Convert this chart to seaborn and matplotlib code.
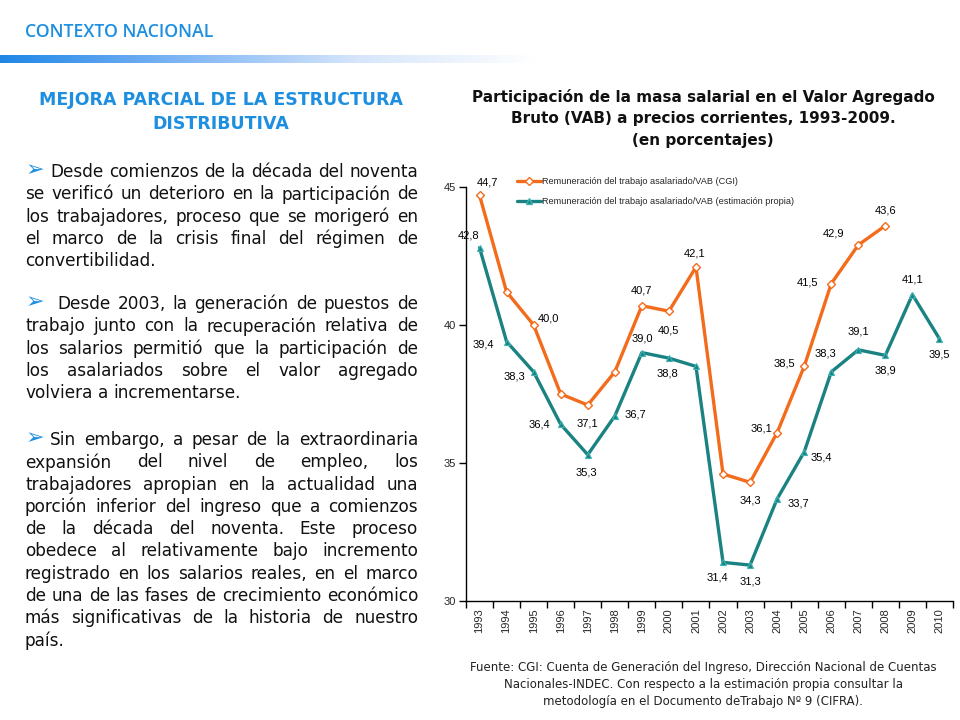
import matplotlib
matplotlib.use("Agg")
import matplotlib.pyplot as plt
from matplotlib.colors import LinearSegmentedColormap
from matplotlib.lines import Line2D
import numpy as np
import pandas as pd
import seaborn as sns

# ---------------- data ----------------
years = list(range(1993, 2011))
cgi_years = list(range(1993, 2009))
cgi_values = [44.7, 41.2, 40.0, 37.5, 37.1, 38.3, 40.7, 40.5, 42.1, 34.6, 34.3, 36.1, 38.5, 41.5, 42.9, 43.6]
est_years = list(range(1993, 2011))
est_values = [42.8, 39.4, 38.3, 36.4, 35.3, 36.7, 39.0, 38.8, 38.5, 31.4, 31.3, 33.7, 35.4, 38.3, 39.1, 38.9, 41.1, 39.5]
cgi_labeled = [1993, 1995, 1997, 1999, 2000, 2001, 2003, 2004, 2005, 2006, 2007, 2008]
est_labeled = [1993, 1994, 1995, 1996, 1997, 1998, 1999, 2000, 2002, 2003, 2004, 2005, 2006, 2007, 2008, 2009, 2010]
y_ticks = [30, 35, 40, 45]
series_names = ["Remuneración del trabajo asalariado/VAB (CGI)",
                "Remuneración del trabajo asalariado/VAB (estimación propia)"]

header = "CONTEXTO NACIONAL"
heading = ["MEJORA PARCIAL DE LA ESTRUCTURA", "DISTRIBUTIVA"]
paragraphs = [
    ["Desde comienzos de la década del noventa",
     "se verificó un deterioro en la participación de",
     "los trabajadores, proceso que se morigeró en",
     "el marco de la crisis final del régimen de",
     "convertibilidad."],
    ["Desde 2003, la generación de puestos de",
     "trabajo junto con la recuperación relativa de",
     "los salarios permitió que la participación de",
     "los asalariados sobre el valor agregado",
     "volviera a incrementarse."],
    ["Sin embargo, a pesar de la extraordinaria",
     "expansión del nivel de empleo, los",
     "trabajadores apropian en la actualidad una",
     "porción inferior del ingreso que a comienzos",
     "de la década del noventa. Este proceso",
     "obedece al relativamente bajo incremento",
     "registrado en los salarios reales, en el marco",
     "de una de las fases de crecimiento económico",
     "más significativas de la historia de nuestro",
     "país."],
]
chart_title = ["Participación de la masa salarial en el Valor Agregado",
               "Bruto (VAB) a precios corrientes, 1993-2009.",
               "(en porcentajes)"]
source_note = ["Fuente: CGI: Cuenta de Generación del Ingreso, Dirección Nacional de Cuentas",
               "Nacionales-INDEC. Con respecto a la estimación propia consultar la",
               "metodología en el Documento deTrabajo Nº 9 (CIFRA)."]

# ---------------- style ----------------
ORANGE = "#F26C1C"
TEAL = "#1B8282"
BLUE = "#1E8FE0"
W, H = 960, 720

sns.set_theme(style="white")
plt.rcParams["font.family"] = ["DejaVu Sans"]

fig = plt.figure(figsize=(9.6, 7.2), dpi=100)
fig.patch.set_facecolor("white")

def fx(x):
    return x / W

def fy(y):
    return 1 - y / H

# header + gradient bar
fig.text(fx(25), fy(32), header, color=BLUE, fontsize=12.8, fontweight="semibold",
         va="center", ha="left", family=["Open Sans", "DejaVu Sans"])
gax = fig.add_axes([0, fy(63), 0.56, 8 / H])
cmap = LinearSegmentedColormap.from_list("g", ["#1F86E6", "#7FB5F5", "#D6E6FB", "#FFFFFF"])
gax.imshow(np.linspace(0, 1, 256)[None, :], aspect="auto", cmap=cmap)
gax.set_axis_off()

# heading
for i, line in enumerate(heading):
    fig.text(fx(221), fy(100 + 24 * i), line, color=BLUE, fontsize=12.5, fontweight="bold",
             ha="center", va="center", family=["DejaVu Sans"])

renderer = fig.canvas.get_renderer()
TEXT_KW = dict(fontsize=12.2, color="#111111", va="center", ha="left", family=["DejaVu Sans"])

def measure(s):
    t = fig.text(0, 0, s, **TEXT_KW)
    w = t.get_window_extent(renderer).width
    t.remove()
    return w

space_w = measure("a a") - measure("aa")

def put_line(line, x0, x1, y, justify):
    words = line.split(" ")
    texts = [fig.text(0, 0, w, **TEXT_KW) for w in words]
    widths = [t.get_window_extent(renderer).width for t in texts]
    if justify and len(words) > 1:
        gap = (x1 - x0 - sum(widths)) / (len(words) - 1)
    else:
        gap = space_w
    x = x0
    for t, w in zip(texts, widths):
        t.set_position((fx(x), fy(y)))
        x += w + gap

para_starts = [172, 304, 440]
first_indent = [50, 57, 50]
line_h = 22.3
for p, lines in enumerate(paragraphs):
    y0 = para_starts[p]
    fig.text(fx(26), fy(y0 - 2), "➢", color=BLUE, fontsize=16, va="center", ha="left",
             family=["DejaVu Sans"])
    for i, line in enumerate(lines):
        x0 = first_indent[p] if i == 0 else 25
        put_line(line, x0, 418, y0 + i * line_h, justify=(i < len(lines) - 1))

# chart title
for i, line in enumerate(chart_title):
    fig.text(fx(703), fy(97 + 22 * i), line, fontsize=11, fontweight="bold", color="#111111",
             ha="center", va="center", family=["DejaVu Sans"])

# source note
for i, line in enumerate(source_note):
    fig.text(fx(703), fy(667 + 17.5 * i), line, fontsize=8.5, color="#222222",
             ha="center", va="center", family=["DejaVu Sans"])

# ---------------- chart ----------------
ax = fig.add_axes([fx(466), fy(601), (953 - 466) / W, (601 - 187) / H])
df_cgi = pd.DataFrame({"year": cgi_years, "value": cgi_values})
df_est = pd.DataFrame({"year": est_years, "value": est_values})

sns.lineplot(data=df_cgi, x="year", y="value", ax=ax, color=ORANGE, lw=2.4,
             marker="D", markersize=4.5, markerfacecolor="white", markeredgecolor=ORANGE,
             markeredgewidth=1.0, label=series_names[0])
sns.lineplot(data=df_est, x="year", y="value", ax=ax, color=TEAL, lw=2.4,
             marker="^", markersize=5, markerfacecolor=TEAL, markeredgecolor="#3DB3B3",
             markeredgewidth=0.8, label=series_names[1])

ax.set_xlim(1992.5, 2010.5)
ax.set_ylim(30, 45)
ax.set_yticks(y_ticks)
ax.set_yticklabels([str(v) for v in y_ticks], fontsize=8, family=["Liberation Sans"])
ax.set_xticks(years)
ax.set_xticklabels([str(y) for y in years], rotation=90, fontsize=8, family=["Liberation Sans"])
ax.set_xticks([y - 0.5 for y in years] + [years[-1] + 0.5], minor=True)
ax.tick_params(axis="x", which="major", length=0, pad=5)
ax.tick_params(axis="x", which="minor", length=5, width=1, color="black", direction="out", bottom=True)
ax.tick_params(axis="y", length=5, width=1, color="black", direction="out", left=True, pad=2)
for s in ["top", "right"]:
    ax.spines[s].set_visible(False)
for s in ["left", "bottom"]:
    ax.spines[s].set_color("black")
    ax.spines[s].set_linewidth(1)
ax.set_xlabel("")
ax.set_ylabel("")
ax.set_facecolor("white")
ax.patch.set_alpha(0)

def fmt(v):
    return f"{v:.1f}".replace(".", ",")

cgi_off = {1993: (6, 9), 1995: (11, 5), 1997: (0, -13), 1999: (0, 11), 2000: (0, -14),
           2001: (-1, 10), 2003: (0, -13), 2004: (-11, 3), 2005: (-14, 2), 2006: (-17, 1),
           2007: (-18, 8), 2008: (0, 11)}
est_off = {1993: (-8, 9), 1994: (-17, -2), 1995: (-14, -3), 1996: (-15, 0), 1997: (-1, -13),
           1998: (15, 1), 1999: (0, 10), 2000: (-1, -11), 2002: (-4, -11), 2003: (0, -12),
           2004: (15, -3), 2005: (12, -4), 2006: (-4, 13), 2007: (0, 13), 2008: (0, -11),
           2009: (0, 11), 2010: (0, -11)}

for yr, v in zip(cgi_years, cgi_values):
    if yr in cgi_labeled:
        dx, dy = cgi_off[yr]
        ax.annotate(fmt(v), (yr, v), xytext=(dx, dy), textcoords="offset points",
                    ha="center", va="center", fontsize=8, family=["Liberation Sans"], color="black")
for yr, v in zip(est_years, est_values):
    if yr in est_labeled:
        dx, dy = est_off[yr]
        ax.annotate(fmt(v), (yr, v), xytext=(dx, dy), textcoords="offset points",
                    ha="center", va="center", fontsize=8, family=["Liberation Sans"], color="black")

handles = [Line2D([], [], color=ORANGE, lw=2.4, marker="D", markersize=4.5,
                  markerfacecolor="white", markeredgecolor=ORANGE),
           Line2D([], [], color=TEAL, lw=2.4, marker="^", markersize=5,
                  markerfacecolor=TEAL, markeredgecolor="#3DB3B3")]
ax.legend(handles=handles, labels=series_names, loc="upper left",
          bbox_to_anchor=(fx(517), fy(177)), bbox_transform=fig.transFigure,
          frameon=False, prop={"family": "Liberation Sans", "size": 6.6},
          handlelength=2.6, handletextpad=0.15, labelspacing=1.25, borderpad=0, borderaxespad=0)

fig.savefig("out.png", dpi=100, facecolor="white")
